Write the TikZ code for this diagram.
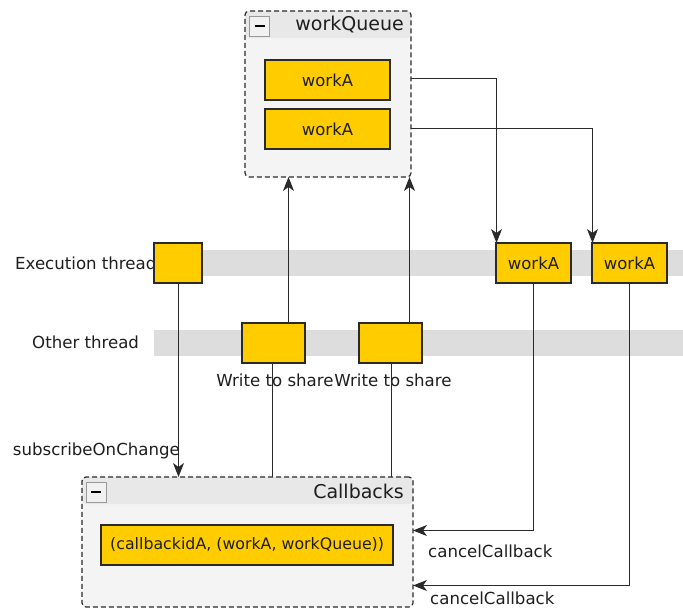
\documentclass[tikz,border=0pt]{standalone}
\usepackage{fontspec}
\setmainfont{DejaVu Sans}
\usetikzlibrary{arrows.meta,calc}
\definecolor{workyellow}{HTML}{FFCC00}
\definecolor{edgegray}{HTML}{2A2A2A}
\definecolor{lanegray}{HTML}{DDDDDD}
\definecolor{bodygray}{HTML}{F4F4F4}
\definecolor{hdrgray}{HTML}{E8E8E8}
\definecolor{textgray}{HTML}{1E1E1E}
\tikzset{
  ybox/.style={draw=edgegray, fill=workyellow, line width=1.1pt, inner sep=0pt, outer sep=0pt,
    font=\fontsize{16.5}{19}\selectfont, text=textgray},
  lanebar/.style={fill=lanegray, inner sep=0pt, outer sep=0pt},
  container/.style={draw=edgegray, fill=bodygray, line width=1.2pt, dash pattern=on 5pt off 3pt,
    rounded corners=4pt, inner sep=0pt, outer sep=0pt,
    path picture={\fill[hdrgray] (path picture bounding box.north west) rectangle
      ([yshift=-27pt]path picture bounding box.north east);}},
  title/.style={font=\fontsize{19}{22}\selectfont, text=textgray, inner sep=0pt},
  lbl/.style={font=\fontsize{16.6}{19}\selectfont, text=textgray, inner sep=0pt},
  minusbox/.style={draw=gray!80, fill=hdrgray!60!white, line width=0.8pt, minimum size=20pt,
    inner sep=0pt, outer sep=0pt},
  wire/.style={draw=edgegray, line width=1.2pt},
  arr/.style={wire, -{Stealth[length=14pt, width=11pt, inset=4pt]}},
}
\begin{document}
\begin{tikzpicture}[x=1pt,y=-1pt]
\useasboundingbox (0,0) rectangle (683,608);
\fill[white] (0,0) rectangle (683,608);

% thread lanes
\node[lanebar, minimum width=529pt, minimum height=26pt] (execlane) at (418.5,263) {};
\node[lanebar, minimum width=529pt, minimum height=26pt] (otherlane) at (418.5,343) {};
\node[lbl, anchor=west] (execlbl) at (15,263) {Execution thread};
\node[lbl, anchor=west] (otherlbl) at (32,342) {Other thread};

% workQueue container
\node[container, minimum width=166pt, minimum height=166pt] (wq) at (328,94) {};
\node[minusbox] (wqmin) at (259.5,26) {};
\draw[line width=2.2pt] ([xshift=-5pt]wqmin.center) -- ([xshift=5pt]wqmin.center);
\node[title, anchor=east] (wqtitle) at (404,25) {workQueue};
\node[ybox, minimum width=125pt, minimum height=40pt] (wa1) at (327.5,80) {workA};
\node[ybox, minimum width=125pt, minimum height=40pt] (wa2) at (327.5,129) {workA};

% Callbacks container
\node[container, minimum width=331pt, minimum height=130pt] (cb) at (247.5,542) {};
\node[minusbox] (cbmin) at (96,492) {};
\draw[line width=2.2pt] ([xshift=-5pt]cbmin.center) -- ([xshift=5pt]cbmin.center);
\node[title, anchor=east] (cbtitle) at (404,491) {Callbacks};
\node[ybox, minimum width=292pt, minimum height=40pt] (entry) at (247,545) {};
\begin{scope}
  \clip (entry.south west) rectangle (entry.north east);
  \node[anchor=west, font=\fontsize{15.8}{19}\selectfont, text=textgray, inner sep=0pt]
    (entrytxt) at (110,545) {(callbackidA, (workA, workQueue))};
\end{scope}
\draw[draw=edgegray, line width=1.1pt] (entry.south west) rectangle (entry.north east);

% boxes on the execution thread
\node[ybox, minimum width=48pt, minimum height=40pt] (eb) at (178,263) {};
\node[ybox, minimum width=75pt, minimum height=40pt] (ea1) at (533.5,263) {workA};
\node[ybox, minimum width=75pt, minimum height=40pt] (ea2) at (629.5,263) {workA};

% boxes on the other thread
\node[ybox, minimum width=63pt, minimum height=40pt] (ob1) at (273.5,343) {};
\node[ybox, minimum width=63pt, minimum height=40pt] (ob2) at (390.5,343) {};
\node[lbl] (ws1) at (275,380) {Write to share};
\node[lbl] (ws2) at (393,380) {Write to share};

% connectors
\draw[arr] ([xshift=0.5pt]eb.south) -- ([xshift=0.5pt]eb.south |- cb.north);
\node[lbl, anchor=east] (sublbl) at (180,451) {subscribeOnChange};

\draw[arr] ([xshift=15pt]ob1.north) -- ([xshift=15pt]ob1.north |- wq.south);
\draw[arr] ([xshift=19pt]ob2.north) -- ([xshift=19pt]ob2.north |- wq.south);
\draw[wire] ([xshift=-1pt]ob1.south) -- ([xshift=-1pt]ob1.south |- cb.north);
\draw[wire] ([xshift=1pt]ob2.south) -- ([xshift=1pt]ob2.south |- cb.north);

\draw[arr] ([yshift=1.5pt]wa1.east -| wq.east) -| ([xshift=0.5pt]ea1.north west);
\draw[arr] ([yshift=0.5pt]wa2.east -| wq.east) -| ([xshift=0.5pt]ea2.north west);

\draw[arr] (ea1.south) |- ([yshift=11.5pt]cb.east);
\draw[arr] (ea2.south) |- ([yshift=-43.5pt]cb.east);
\node[lbl, anchor=west] (cc1) at (428,551) {cancelCallback};
\node[lbl, anchor=west] (cc2) at (430,598.5) {cancelCallback};
\end{tikzpicture}
\end{document}
